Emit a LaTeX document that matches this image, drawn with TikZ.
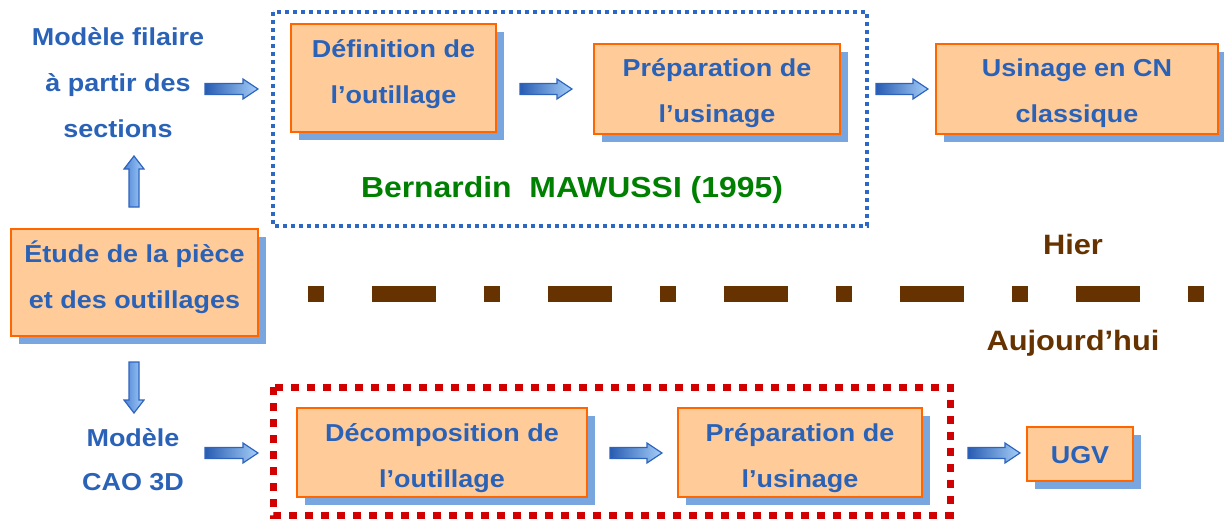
\documentclass[tikz,border=0pt]{standalone}
\usepackage{fontspec}
\newfontfamily\bx[FakeStretch=1.1]{Liberation Sans}
\usetikzlibrary{calc,shadows}
\definecolor{tblue}{RGB}{42,98,184}
\definecolor{tgreen}{RGB}{0,128,0}
\definecolor{tbrown}{RGB}{102,51,0}
\definecolor{boxfill}{RGB}{255,204,153}
\definecolor{boxdraw}{RGB}{255,102,0}
\definecolor{shadowc}{RGB}{122,166,224}
\definecolor{dotblue}{RGB}{44,104,196}
\definecolor{dotred}{RGB}{210,0,0}
\definecolor{adark}{RGB}{40,92,178}
\definecolor{alight}{RGB}{165,206,248}
\definecolor{amid}{RGB}{78,132,214}
\definecolor{aline}{RGB}{46,100,190}
\newcommand{\harr}[2]{%
  \shade[left color=adark, right color=alight, draw=aline, line width=1.2pt, line join=miter]
    ($(#1)+(0,-5.5)$) -- ($(#2)+(-15,-5.5)$) -- ($(#2)+(-15,-10)$) -- (#2)
    -- ($(#2)+(-15,10)$) -- ($(#2)+(-15,5.5)$) -- ($(#1)+(0,5.5)$) -- cycle;}
\newcommand{\varr}[3]{% #3 = +13 for up, -13 for down
  \shade[left color=amid, right color=alight, draw=aline, line width=1.2pt, line join=miter]
    ($(#1)+(-5,0)$) -- ($(#2)+(-5,#3)$) -- ($(#2)+(-10,#3)$) -- (#2)
    -- ($(#2)+(10,#3)$) -- ($(#2)+(5,#3)$) -- ($(#1)+(5,0)$) -- cycle;}
\begin{document}
\begin{tikzpicture}[x=1pt,y=-1pt,
  txt/.style={font=\bx\bfseries\fontsize{24.5}{46}\selectfont, text=tblue, align=center, inner sep=0pt},
  box/.style={draw=boxdraw, fill=boxfill, line width=2.4pt, inner sep=0pt,
    drop shadow={shadow xshift=8pt, shadow yshift=-8pt, fill=shadowc, opacity=1, draw=none}},
  era/.style={font=\bx\bfseries\fontsize{28}{34}\selectfont, text=tbrown, inner sep=0pt}]
\useasboundingbox (0,0) rectangle (1224,519);

% frames
\draw[dotblue, line width=4pt, dash pattern=on 4pt off 4pt] (273,12) rectangle (867,226);
\draw[dotred, line width=7pt, dash pattern=on 8pt off 8pt] (273,387) rectangle (950,515);

% separator
\coordinate (sepA) at (308,294);
\coordinate (sepB) at (1204,294);
\draw[tbrown, line width=16pt, dash pattern=on 16pt off 48pt on 64pt off 48pt] (sepA) -- (sepB);

% boxes
\node[box, minimum width=205, minimum height=108] (def) at (393.5,78) {};
\node[box, minimum width=246, minimum height=90] (prep1) at (717,89) {};
\node[box, minimum width=282, minimum height=90] (usin) at (1077,89) {};
\node[box, minimum width=247, minimum height=107] (etude) at (134.5,282.5) {};
\node[box, minimum width=290, minimum height=89] (dec) at (442,452.5) {};
\node[box, minimum width=244, minimum height=89] (prep2) at (800,452.5) {};
\node[box, minimum width=106, minimum height=54] (ugv) at (1080,454) {};

% texts
\node[txt] (filT) at (118,83) {Modèle filaire\\à partir des\\sections};
\node[txt] (defT) at (393.5,74) {Définition de\\l’outillage};
\node[txt] (prep1T) at (717,93) {Préparation de\\l’usinage};
\node[txt] (usinT) at (1077,93) {Usinage en CN\\classique};
\node[txt] (etudeT) at (134.5,277) {Étude de la pièce\\et des outillages};
\node[txt, font=\bx\bfseries\fontsize{24.5}{44}\selectfont] (caoT) at (133,460) {Modèle\\CAO 3D};
\node[txt] (decT) at (442,458) {Décomposition de\\l’outillage};
\node[txt] (prep2T) at (800,458) {Préparation de\\l’usinage};
\node[txt] (ugvT) at (1080,455) {UGV};
\node[font=\bx\bfseries\fontsize{29}{34}\selectfont, text=tgreen, inner sep=0pt] (bern) at (572,190) {Bernardin\ \ MAWUSSI (1995)};
\node[era] (hier) at (1073,244) {Hier};
\node[era] (auj) at (1073,343) {Aujourd’hui};

% arrow end points
\coordinate (a1s) at (205,89);  \coordinate (a1e) at (258,89);
\coordinate (a2s) at (520,89);  \coordinate (a2e) at (572,89);
\coordinate (a3s) at (876,89);  \coordinate (a3e) at (928,89);
\coordinate (b1s) at (205,453); \coordinate (b1e) at (258,453);
\coordinate (b2s) at (610,453); \coordinate (b2e) at (662,453);
\coordinate (b3s) at (968,453); \coordinate (b3e) at (1020,453);
\coordinate (us) at (134,207);  \coordinate (ue) at (134,156);
\coordinate (ds) at (134,362);  \coordinate (de) at (134,413);

\harr{a1s}{a1e}
\harr{a2s}{a2e}
\harr{a3s}{a3e}
\harr{b1s}{b1e}
\harr{b2s}{b2e}
\harr{b3s}{b3e}
\varr{us}{ue}{13}
\varr{ds}{de}{-13}
\end{tikzpicture}
\end{document}
